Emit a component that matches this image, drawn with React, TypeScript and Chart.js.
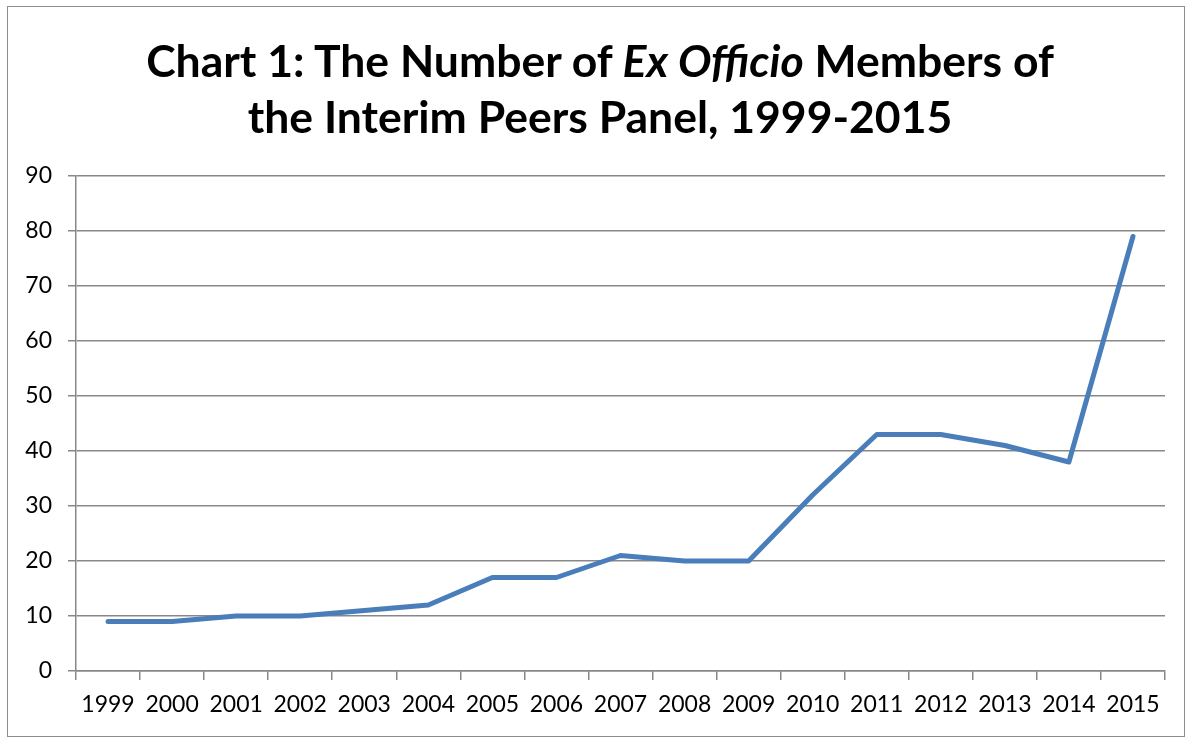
import React, { useEffect, useRef } from "react";
import { Chart, registerables } from "chart.js";

Chart.register(...registerables);

const years = ["1999", "2000", "2001", "2002", "2003", "2004", "2005", "2006", "2007", "2008", "2009", "2010", "2011", "2012", "2013", "2014", "2015"];
const members = [9, 9, 10, 10, 11, 12, 17, 17, 21, 20, 20, 32, 43, 43, 41, 38, 79];
const yMin = 0;
const yMax = 90;
const yStep = 10;

const FONT = "Lato, 'Open Sans', 'Liberation Sans', sans-serif";
const GRID = "#888888";

export default function App() {
  const ref = useRef<HTMLCanvasElement | null>(null);

  useEffect(() => {
    if (!ref.current) return;
    const chart = new Chart(ref.current, {
      type: "line",
      data: {
        labels: years,
        datasets: [
          {
            label: "Ex Officio Members",
            data: members,
            borderColor: "#4a7ebb",
            backgroundColor: "#4a7ebb",
            borderWidth: 5,
            pointRadius: 0,
            tension: 0,
            borderCapStyle: "round",
            borderJoinStyle: "round",
          },
        ],
      },
      options: {
        responsive: false,
        animation: false,
        layout: { padding: { top: 176, right: 24, left: 0, bottom: 0 } },
        plugins: { legend: { display: false }, title: { display: false }, tooltip: { enabled: false } },
        scales: {
          x: {
            type: "category",
            offset: true,
            grid: { display: true, drawOnChartArea: false, drawTicks: true, tickLength: 9, offset: true, color: GRID, lineWidth: 1.5 },
            border: { display: true, color: GRID, width: 1.5 },
            ticks: { color: "#000", font: { family: FONT, size: 23 }, padding: 11, maxRotation: 0, autoSkip: false },
            afterFit: (s: any) => { s.height = 69; },
          },
          y: {
            min: yMin,
            max: yMax,
            grid: { color: GRID, lineWidth: 1.5, drawTicks: true, tickLength: 8 },
            border: { display: true, color: GRID, width: 1.5 },
            ticks: { stepSize: yStep, color: "#000", font: { family: FONT, size: 23 }, padding: 16 },
            afterFit: (s: any) => { s.width = 76; },
          },
        },
      },
    });
    return () => chart.destroy();
  }, []);

  return (
    <div style={{ position: "fixed", left: 0, top: 0, width: 1189, height: 740, background: "#fff", overflow: "hidden" }}>
      <div style={{ position: "absolute", left: 7, top: 6, width: 1176, height: 729, border: "1.5px solid #8c8c8c" }} />
      <canvas ref={ref} width={1189} height={740} style={{ position: "absolute", left: 0, top: 0 }} />
      <div
        style={{
          position: "absolute",
          left: 0,
          top: 32,
          width: 1200,
          textAlign: "center",
          fontFamily: FONT,
          fontWeight: 700,
          fontSize: 44.5,
          lineHeight: "56px",
          color: "#000",
        }}
      >
        Chart 1: The Number of <i>Ex Officio</i> Members of
        <br />
        the Interim Peers Panel, 1999-2015
      </div>
    </div>
  );
}
